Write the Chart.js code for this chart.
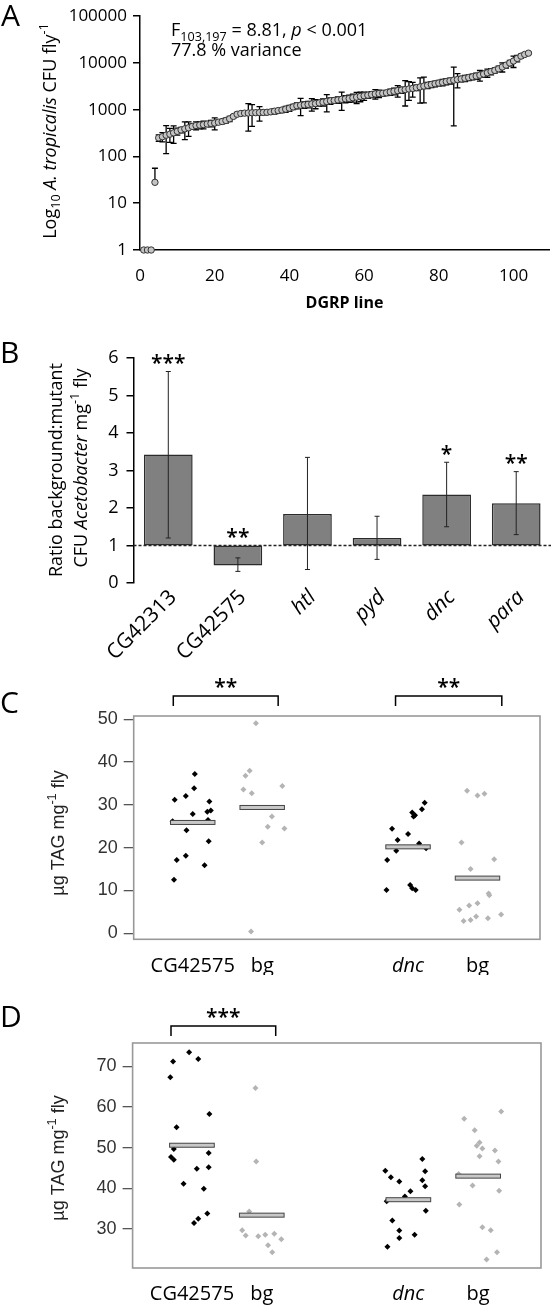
<!DOCTYPE html>
<html lang="en">
<head>
  <meta charset="UTF-8">
  <title>Acetobacter abundance and TAG in DGRP lines and mutants</title>
  <script src="https://cdn.jsdelivr.net/npm/chart.js"></script>
  <style>
    body { margin: 0; background: #fff; width: 554px; height: 1306px; position: relative; overflow: hidden; }
    canvas { position: absolute; left: 0; }
  </style>
</head>
<body>
  <canvas id="chartA" width="554" height="320" style="top:0"></canvas>
  <canvas id="chartB" width="554" height="360" style="top:320px"></canvas>
  <canvas id="chartC" width="554" height="315" style="top:660px"></canvas>
  <canvas id="chartD" width="554" height="331" style="top:975px"></canvas>

  <script>
    const FONT = "'Open Sans', sans-serif";
    const RFONT = "'Liberation Sans', Arial, sans-serif";

    // ---- A: A. tropicalis CFU per fly, DGRP lines ranked (mean, +/- error)
    const cfuMeans = [
      1, 1, 1, 28, 250, 265, 285, 300, 320, 345, 370, 390, 410, 440, 460, 470, 480, 495, 510, 520,
      540, 560, 590, 640, 720, 800, 830, 845, 850, 860, 865, 870, 875, 880, 900, 930, 960, 985, 1030, 1080,
      1150, 1220, 1250, 1270, 1300, 1330, 1350, 1400, 1450, 1500, 1550, 1580, 1620, 1670, 1710, 1740, 1800, 1860, 1930, 1990,
      2050, 2120, 2180, 2220, 2250, 2300, 2390, 2480, 2560, 2630, 2700, 2780, 2860, 2960, 3080, 3200, 3330, 3470, 3600, 3720,
      3850, 4000, 4150, 4300, 4420, 4550, 4700, 4870, 5050, 5250, 5500, 5800, 6150, 6550, 6950, 7500, 8200, 9000, 10000, 11000,
      12500, 14000, 15200, 16200
    ];
    const cfuErrors = [
      0, 0, 0, 28, 40, 60, 170, 100, 130, 60, 50, 160, 140, 60, 90, 80, 90, 60, 80, 150,
      50, 60, 70, 80, 60, 80, 60, 70, 500, 420, 80, 300, 100, 80, 100, 120, 100, 120, 150, 160,
      150, 180, 500, 200, 200, 400, 300, 200, 250, 600, 250, 200, 250, 700, 300, 300, 350, 500, 450, 400,
      300, 300, 500, 400, 300, 300, 350, 400, 700, 400, 1500, 1200, 1000, 400, 1700, 1800, 500, 500, 500, 500,
      600, 600, 600, 3850, 1500, 600, 700, 700, 700, 800, 1400, 900, 1200, 1000, 900, 1000, 1800, 1200, 1300, 3000,
      2000, 1500, 1200, 1000
    ];
    const xTicksA = [0, 20, 40, 60, 80, 100];
    const yTicksA = [1, 10, 100, 1000, 10000, 100000];

    // ---- B: ratio background:mutant CFU Acetobacter
    const genes = ['CG42313', 'CG42575', 'htl', 'pyd', 'dnc', 'para'];
    const geneItalic = [false, false, true, true, true, true];
    const ratioValues = [3.43, 0.47, 1.84, 1.20, 2.36, 2.13];
    const ratioLow = [1.20, 0.31, 0.36, 0.63, 1.50, 1.29];
    const ratioHigh = [5.64, 0.67, 3.35, 1.78, 3.22, 2.97];
    const ratioStars = ['***', '**', '', '', '*', '**'];

    // ---- C and D: TAG per mg fly, mutant (black) vs background (grey)
    const tagGroups = ['CG42575', 'bg', 'dnc', 'bg'];
    const tagGroupX = [1, 2, 4.1, 5.1];

    const tagC_mutX = [1.03, 0.74, 0.90, 1.02, 1.24, 1.00, 1.21, 1.26, 0.71, 0.91, 1.22, 1.23, 0.77, 0.90, 1.17, 0.73,
                       4.34, 4.30, 4.16, 4.20, 4.18, 3.87, 4.10, 3.95, 4.26, 3.93, 4.36, 3.80, 3.79, 4.13, 4.16, 4.21];
    const tagC_mutY = [37.2, 31.2, 32.1, 33.9, 30.8, 27.9, 28.4, 28.7, 26.2, 24.1, 26.5, 21.5, 17.1, 18.1, 15.9, 12.5,
                       30.5, 29.0, 28.2, 27.6, 27.3, 24.4, 23.2, 21.8, 21.0, 19.3, 19.9, 17.1, 10.1, 11.3, 10.5, 10.1];
    const tagC_bgX = [1.91, 1.82, 1.76, 1.73, 1.85, 2.29, 2.14, 2.08, 2.32, 2.00, 1.84,
                      4.95, 5.10, 5.20, 4.87, 5.34, 5.00, 5.26, 5.27, 4.84, 4.98, 5.10, 5.44, 4.90, 5.00, 5.08, 5.25];
    const tagC_bgY = [49.1, 38.0, 36.8, 33.6, 32.7, 34.4, 27.3, 24.9, 24.5, 21.2, 0.4,
                      33.3, 32.2, 32.6, 21.2, 17.3, 15.0, 9.3, 8.9, 5.5, 6.5, 7.0, 4.4, 2.9, 3.1, 3.9, 3.5];
    const tagC_medians = [25.9, 29.4, 20.2, 12.9];
    const sigC_from = [0.72, 3.92];
    const sigC_to = [2.23, 5.45];
    const sigC_label = ['**', '**'];

    const tagD_mutX = [0.96, 0.73, 1.09, 0.69, 1.25, 0.78, 0.74, 1.24, 0.70, 0.74, 1.07, 1.24, 0.88, 1.17, 1.22, 1.09, 1.03,
                       3.77, 3.85, 3.97, 4.13, 4.05, 3.79, 4.30, 4.34, 4.30, 4.34, 4.35, 3.87, 3.97, 3.97, 4.19, 3.80];
    const tagD_mutY = [73.5, 71.2, 71.8, 67.3, 58.3, 55.0, 49.7, 48.7, 47.7, 47.0, 44.8, 45.2, 41.1, 39.9, 33.8, 32.5, 31.5,
                       44.3, 42.7, 41.7, 39.3, 38.0, 36.8, 47.2, 44.2, 42.0, 40.5, 34.5, 32.1, 29.6, 27.8, 28.6, 25.6];
    const tagD_bgX = [1.91, 1.92, 1.82, 1.72, 1.77, 1.95, 2.05, 2.18, 2.28, 2.09, 2.15,
                      4.90, 5.05, 5.43, 5.12, 5.08, 5.16, 5.12, 5.34, 5.39, 4.82, 5.02, 5.40, 4.83, 5.16, 5.28, 5.37, 5.22];
    const tagD_bgY = [64.7, 46.6, 34.3, 29.7, 28.4, 28.2, 28.6, 28.8, 27.5, 26.0, 24.3,
                      57.1, 54.3, 58.9, 51.3, 50.5, 49.8, 47.9, 49.3, 46.6, 43.5, 40.7, 39.4, 36.0, 30.4, 29.7, 24.3, 22.5];
    const tagD_medians = [50.6, 33.4, 37.2, 43.0];
    const sigD_from = [0.70];
    const sigD_to = [2.20];
    const sigD_label = ['***'];

    // text with italic / subscript / superscript pieces: [text, '' | 'i' | 'sub' | 'sup']
    function drawRich(ctx, parts, x, y, size, family, align) {
      const fontOf = st => {
        const s = (st === 'sub' || st === 'sup') ? size * 0.7 : size;
        return (st === 'i' ? 'italic ' : '') + s + 'px ' + family;
      };
      let total = 0;
      parts.forEach(([t, st]) => { ctx.font = fontOf(st); total += ctx.measureText(t).width; });
      let cx = align === 'center' ? x - total / 2 : x;
      ctx.textAlign = 'left';
      parts.forEach(([t, st]) => {
        ctx.font = fontOf(st);
        const dy = st === 'sub' ? size * 0.28 : (st === 'sup' ? -size * 0.38 : 0);
        ctx.fillText(t, cx, y + dy);
        cx += ctx.measureText(t).width;
      });
    }

    function rotatedTitle(ctx, parts, cx, cy, size, family) {
      ctx.save();
      ctx.translate(cx, cy);
      ctx.rotate(-Math.PI / 2);
      ctx.textBaseline = 'middle';
      drawRich(ctx, parts, 0, 0, size, family, 'center');
      ctx.restore();
    }

    function panelLetter(ctx, letter, x, baseline) {
      ctx.save();
      ctx.font = '30px ' + FONT;
      ctx.fillStyle = '#000';
      ctx.textAlign = 'left';
      ctx.textBaseline = 'alphabetic';
      ctx.fillText(letter, x, baseline);
      ctx.restore();
    }

    function stars(ctx, text, x, centerY) {
      ctx.save();
      ctx.font = '600 21px ' + FONT;
      ctx.fillStyle = '#000';
      ctx.textAlign = 'center';
      ctx.textBaseline = 'alphabetic';
      ctx.fillText(text, x, centerY + 12.5);
      ctx.restore();
    }

    const noPlugins = { legend: { display: false }, tooltip: { enabled: false } };

    // ===================== A =====================
    const errorBarsA = {
      id: 'errorBarsA',
      beforeDatasetsDraw(chart) {
        const { ctx, scales: { x, y } } = chart;
        ctx.save();
        ctx.strokeStyle = '#000';
        ctx.lineWidth = 1.3;
        cfuMeans.forEach((m, i) => {
          const e = cfuErrors[i];
          if (!e) return;
          const px = x.getPixelForValue(i + 1);
          const top = y.getPixelForValue(m + e);
          const hasLow = m - e > 0;
          const bot = y.getPixelForValue(hasLow ? m - e : m);
          ctx.beginPath();
          ctx.moveTo(px, top); ctx.lineTo(px, bot);
          ctx.moveTo(px - 3, top); ctx.lineTo(px + 3, top);
          if (hasLow) { ctx.moveTo(px - 3, bot); ctx.lineTo(px + 3, bot); }
          ctx.stroke();
        });
        ctx.restore();
      }
    };

    const decorA = {
      id: 'decorA',
      afterDraw(chart) {
        const ctx = chart.ctx;
        panelLetter(ctx, 'A', 1, 26);
        ctx.fillStyle = '#000';
        rotatedTitle(ctx, [['Log', ''], ['10', 'sub'], [' ', ''], ['A. tropicalis', 'i'], [' CFU fly', ''], ['-1', 'sup']], 51, 131, 18, FONT);
        ctx.save();
        ctx.fillStyle = '#000';
        ctx.textBaseline = 'alphabetic';
        drawRich(ctx, [['F', ''], ['103,197', 'sub'], [' = 8.81, ', ''], ['p', 'i'], [' < 0.001', '']], 171, 36, 18, FONT, 'left');
        drawRich(ctx, [['77.8 % variance', '']], 171, 56, 18, FONT, 'left');
        ctx.restore();
      }
    };

    new Chart(document.getElementById('chartA'), {
      type: 'scatter',
      data: {
        datasets: [{
          data: cfuMeans.map((v, i) => ({ x: i + 1, y: v })),
          pointRadius: 3.2,
          pointBackgroundColor: '#c4c4c4',
          pointBorderColor: '#333',
          pointBorderWidth: 1,
          clip: false
        }]
      },
      options: {
        responsive: false,
        animation: false,
        layout: { padding: { top: 15, right: 1, left: 0, bottom: 0 } },
        plugins: noPlugins,
        scales: {
          x: {
            type: 'linear', min: 0, max: 109.5,
            afterBuildTicks: s => { s.ticks = xTicksA.map(v => ({ value: v })); },
            afterFit: s => { s.height = 70; },
            grid: { display: false, drawTicks: false },
            border: { display: true, color: '#000', width: 1.5 },
            ticks: { padding: 16, color: '#000', font: { family: FONT, size: 17 } },
            title: { display: true, text: 'DGRP line', color: '#000', padding: { top: 0, bottom: 7 },
                     font: { family: FONT, size: 16, weight: 'bold' } }
          },
          y: {
            type: 'logarithmic', min: 1, max: 100000,
            afterBuildTicks: s => { s.ticks = yTicksA.map(v => ({ value: v })); },
            afterFit: s => { s.width = 140; },
            grid: { display: true, drawOnChartArea: false, drawTicks: true, tickLength: 7, color: '#000', lineWidth: 1.5 },
            border: { display: true, color: '#000', width: 1.5 },
            ticks: { padding: 6, color: '#000', font: { family: FONT, size: 17 }, callback: v => String(v) }
          }
        }
      },
      plugins: [errorBarsA, decorA]
    });

    // ===================== B =====================
    const extrasB = {
      id: 'extrasB',
      beforeDatasetsDraw(chart) {
        const { ctx, chartArea, scales: { y } } = chart;
        const py = y.getPixelForValue(1);
        ctx.save();
        ctx.strokeStyle = '#222';
        ctx.lineWidth = 1.3;
        ctx.setLineDash([3, 2]);
        ctx.beginPath();
        ctx.moveTo(chartArea.left, py);
        ctx.lineTo(chartArea.right, py);
        ctx.stroke();
        ctx.restore();
      },
      afterDatasetsDraw(chart) {
        const { ctx, scales: { x, y } } = chart;
        ctx.save();
        ctx.strokeStyle = '#222';
        ctx.lineWidth = 1;
        genes.forEach((g, i) => {
          const px = x.getPixelForValue(i);
          const top = y.getPixelForValue(ratioHigh[i]);
          const bot = y.getPixelForValue(ratioLow[i]);
          ctx.beginPath();
          ctx.moveTo(px, top); ctx.lineTo(px, bot);
          ctx.moveTo(px - 2.5, top); ctx.lineTo(px + 2.5, top);
          ctx.moveTo(px - 2.5, bot); ctx.lineTo(px + 2.5, bot);
          ctx.stroke();
          if (ratioStars[i]) stars(ctx, ratioStars[i], px, y.getPixelForValue(Math.max(ratioHigh[i], 1)) - 14);
        });
        ctx.restore();
      },
      afterDraw(chart) {
        const { ctx, chartArea, scales: { x } } = chart;
        // category labels at 45 degrees, right end at the tick
        genes.forEach((g, i) => {
          const px = x.getPixelForValue(i);
          ctx.save();
          ctx.translate(px + 5, chartArea.bottom + 11);
          ctx.rotate(-Math.PI / 4);
          ctx.font = (geneItalic[i] ? 'italic ' : '') + '21px ' + FONT;
          ctx.fillStyle = '#000';
          ctx.textAlign = 'right';
          ctx.textBaseline = 'middle';
          ctx.fillText(g, 0, 0);
          ctx.restore();
        });
        panelLetter(ctx, 'B', 0, 43);
        ctx.fillStyle = '#000';
        rotatedTitle(ctx, [['Ratio background:mutant', '']], 57, 150, 18, FONT);
        rotatedTitle(ctx, [['CFU ', ''], ['Acetobacter', 'i'], [' mg', ''], ['-1', 'sup'], [' fly', '']], 82, 148, 18, FONT);
      }
    };

    new Chart(document.getElementById('chartB'), {
      type: 'bar',
      data: {
        labels: genes,
        datasets: [{
          data: ratioValues.map(v => [1, v]),
          backgroundColor: '#808080',
          borderColor: '#2b2b2b',
          borderWidth: 1.5,
          borderSkipped: false,
          barPercentage: 0.7,
          categoryPercentage: 1
        }]
      },
      options: {
        responsive: false,
        animation: false,
        layout: { padding: { top: 38, right: 3, left: 0, bottom: 0 } },
        plugins: noPlugins,
        scales: {
          x: {
            afterFit: s => { s.height = 97; },
            grid: { display: false, drawTicks: false },
            border: { display: false },
            ticks: { display: false }
          },
          y: {
            min: 0, max: 6,
            afterFit: s => { s.width = 133.5; },
            grid: { display: true, drawOnChartArea: false, drawTicks: true, tickLength: 7, color: '#000', lineWidth: 1.5 },
            border: { display: true, color: '#000', width: 1.5 },
            ticks: { stepSize: 1, padding: 8, color: '#000', font: { family: FONT, size: 18 } }
          }
        }
      },
      plugins: [extrasB]
    });

    // ===================== C and D =====================
    function tagPlugin(id, letter, letterBase, titleY, medians, sigFrom, sigTo, sigLabel, bracketTop) {
      return {
        id: id,
        afterDatasetsDraw(chart) {
          const { ctx, chartArea: a, scales: { x, y } } = chart;
          ctx.save();
          // medians
          medians.forEach((m, i) => {
            const x0 = x.getPixelForValue(tagGroupX[i] - 0.32);
            const x1 = x.getPixelForValue(tagGroupX[i] + 0.32);
            const py = y.getPixelForValue(m);
            ctx.fillStyle = '#c8c8c8';
            ctx.fillRect(x0, py - 2, x1 - x0, 4);
            ctx.strokeStyle = '#444';
            ctx.lineWidth = 1;
            ctx.strokeRect(x0, py - 2, x1 - x0, 4);
          });
          // box
          ctx.strokeStyle = '#999';
          ctx.lineWidth = 1.6;
          ctx.strokeRect(a.left, a.top, a.right - a.left, a.bottom - a.top);
          // significance brackets
          ctx.strokeStyle = '#000';
          ctx.lineWidth = 1.5;
          sigFrom.forEach((f, i) => {
            const x0 = x.getPixelForValue(f);
            const x1 = x.getPixelForValue(sigTo[i]);
            ctx.beginPath();
            ctx.moveTo(x0, bracketTop + 10); ctx.lineTo(x0, bracketTop);
            ctx.lineTo(x1, bracketTop); ctx.lineTo(x1, bracketTop + 10);
            ctx.stroke();
            stars(ctx, sigLabel[i], (x0 + x1) / 2, bracketTop - 15);
          });
          ctx.restore();
        },
        afterDraw(chart) {
          const ctx = chart.ctx;
          panelLetter(ctx, letter, 0, letterBase);
          ctx.save();
          ctx.fillStyle = '#222';
          rotatedTitle(ctx, [['\u00b5g TAG mg', ''], ['-1', 'sup'], [' fly', '']], 59, titleY, 18, RFONT);
          ctx.restore();
        }
      };
    }

    function tagChart(canvasId, mutX, mutY, bgX, bgY, yMin, yMax, yTicks, pad, yWidth, xHeight, labelPad, plugin) {
      return new Chart(document.getElementById(canvasId), {
        type: 'scatter',
        data: {
          datasets: [
            { data: mutX.map((v, i) => ({ x: v, y: mutY[i] })), pointStyle: 'rectRot', pointRadius: 3,
              pointBackgroundColor: '#000', pointBorderColor: '#000', pointBorderWidth: 0 },
            { data: bgX.map((v, i) => ({ x: v, y: bgY[i] })), pointStyle: 'rectRot', pointRadius: 3,
              pointBackgroundColor: '#b4b4b4', pointBorderColor: '#b4b4b4', pointBorderWidth: 0 }
          ]
        },
        options: {
          responsive: false,
          animation: false,
          layout: { padding: pad },
          plugins: noPlugins,
          scales: {
            x: {
              type: 'linear', min: 0.15, max: 6.0,
              afterBuildTicks: s => { s.ticks = tagGroupX.map(v => ({ value: v })); },
              afterFit: s => { s.height = xHeight; },
              grid: { display: false, drawTicks: false },
              border: { display: false },
              ticks: {
                autoSkip: false, padding: labelPad, color: '#000',
                callback: (v, i) => tagGroups[i],
                font: c => ({ family: FONT, size: 20, style: c.index === 2 ? 'italic' : 'normal' })
              }
            },
            y: {
              min: yMin, max: yMax,
              afterBuildTicks: s => { s.ticks = yTicks.map(v => ({ value: v })); },
              afterFit: s => { s.width = yWidth; },
              grid: { display: true, drawOnChartArea: false, drawTicks: true, tickLength: 10, color: '#555', lineWidth: 1.3 },
              border: { display: false },
              ticks: { padding: 6, color: '#333', font: { family: RFONT, size: 18 } }
            }
          }
        },
        plugins: [plugin]
      });
    }

    tagChart('chartC', tagC_mutX, tagC_mutY, tagC_bgX, tagC_bgY, -1.4, 50.77, [0, 10, 20, 30, 40, 50],
      { top: 56, right: 14, left: 0, bottom: 0 }, 133.7, 35.7, 15,
      tagPlugin('tagC', 'C', 53, 173, tagC_medians, sigC_from, sigC_to, sigC_label, 36));

    tagChart('chartD', tagD_mutX, tagD_mutY, tagD_bgX, tagD_bgY, 20.4, 75.75, [30, 40, 50, 60, 70],
      { top: 68, right: 13, left: 0, bottom: 0 }, 132.6, 38, 14,
      tagPlugin('tagD', 'D', 52, 183, tagD_medians, sigD_from, sigD_to, sigD_label, 51));
  </script>
</body>
</html>
